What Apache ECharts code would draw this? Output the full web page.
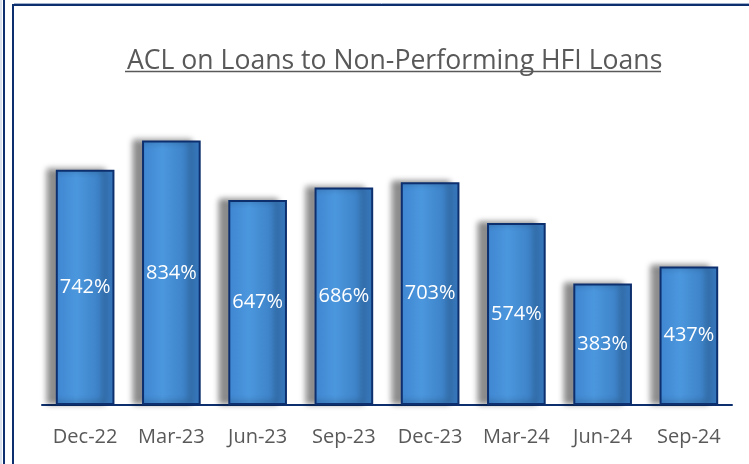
<!DOCTYPE html>
<html lang="en">
<head>
    <meta charset="UTF-8">
    <title>ACL on Loans to Non-Performing HFI Loans</title>
    <script src="https://cdn.jsdelivr.net/npm/echarts@6/dist/echarts.min.js"></script>
    <style>
        html, body { margin: 0; padding: 0; background: #fff; }
    </style>
</head>
<body>
    <div id="box" style="width: 749px; height: 464px;"></div>
    <script>
        // quarters and ratio values (%)
        var quarters = ['Dec-22', 'Mar-23', 'Jun-23', 'Sep-23', 'Dec-23', 'Mar-24', 'Jun-24', 'Sep-24'];
        var aclRatio = [742, 834, 647, 686, 703, 574, 383, 437];

        var myChart = echarts.init(document.getElementById('box'));
        var font = '"Open Sans", "Noto Sans", sans-serif';

        var option = {
            animation: false,
            title: {
                text: 'ACL on Loans to Non-Performing HFI Loans',
                left: 122,
                top: 43,
                textStyle: {
                    fontFamily: font,
                    fontSize: 26.6,
                    fontWeight: 'normal',
                    color: '#595959'
                }
            },
            grid: { left: 42, right: 17, top: 88, bottom: 59 },
            xAxis: {
                type: 'category',
                data: quarters,
                axisLine: { lineStyle: { color: '#0d2f6e', width: 2 } },
                axisTick: { show: false },
                axisLabel: {
                    interval: 0,
                    margin: 22,
                    fontFamily: font,
                    fontSize: 20,
                    color: '#595959'
                }
            },
            yAxis: {
                type: 'value',
                min: 0,
                max: 1000,
                show: false,
                splitLine: { show: false }
            },
            series: [{
                type: 'bar',
                data: aclRatio,
                barWidth: '68%',
                itemStyle: {
                    color: new echarts.graphic.LinearGradient(0, 0, 1, 0, [
                        { offset: 0, color: '#3f86d0' },
                        { offset: 0.35, color: '#4b97de' },
                        { offset: 1, color: '#3474b8' }
                    ]),
                    borderColor: '#0d2f6e',
                    borderWidth: 2,
                    shadowColor: 'rgba(0,0,0,0.45)',
                    shadowBlur: 6,
                    shadowOffsetX: -9,
                    shadowOffsetY: -1
                },
                label: {
                    show: true,
                    position: 'inside',
                    formatter: '{c}%',
                    fontFamily: font,
                    fontSize: 20,
                    color: '#ffffff'
                }
            }],
            graphic: [
                // title underline
                { type: 'line', shape: { x1: 125, y1: 71.5, x2: 661, y2: 71.5 }, style: { stroke: '#595959', lineWidth: 1.5 } },
                // frame lines
                { type: 'line', shape: { x1: 1, y1: 0, x2: 1, y2: 464 }, style: { stroke: '#b8c4d8', lineWidth: 1 } },
                { type: 'line', shape: { x1: 4, y1: 0, x2: 4, y2: 464 }, style: { stroke: '#0d2f6e', lineWidth: 2 } },
                { type: 'line', shape: { x1: 13, y1: 5, x2: 13, y2: 464 }, style: { stroke: '#0d2f6e', lineWidth: 2 } },
                { type: 'line', shape: { x1: 12, y1: 5, x2: 749, y2: 5 }, style: { stroke: '#0d2f6e', lineWidth: 2 } },
                { type: 'line', shape: { x1: 14, y1: 3.5, x2: 749, y2: 3.5 }, style: { stroke: '#9fb0cc', lineWidth: 1 } }
            ]
        };
        myChart.setOption(option);
    </script>
</body>
</html>
